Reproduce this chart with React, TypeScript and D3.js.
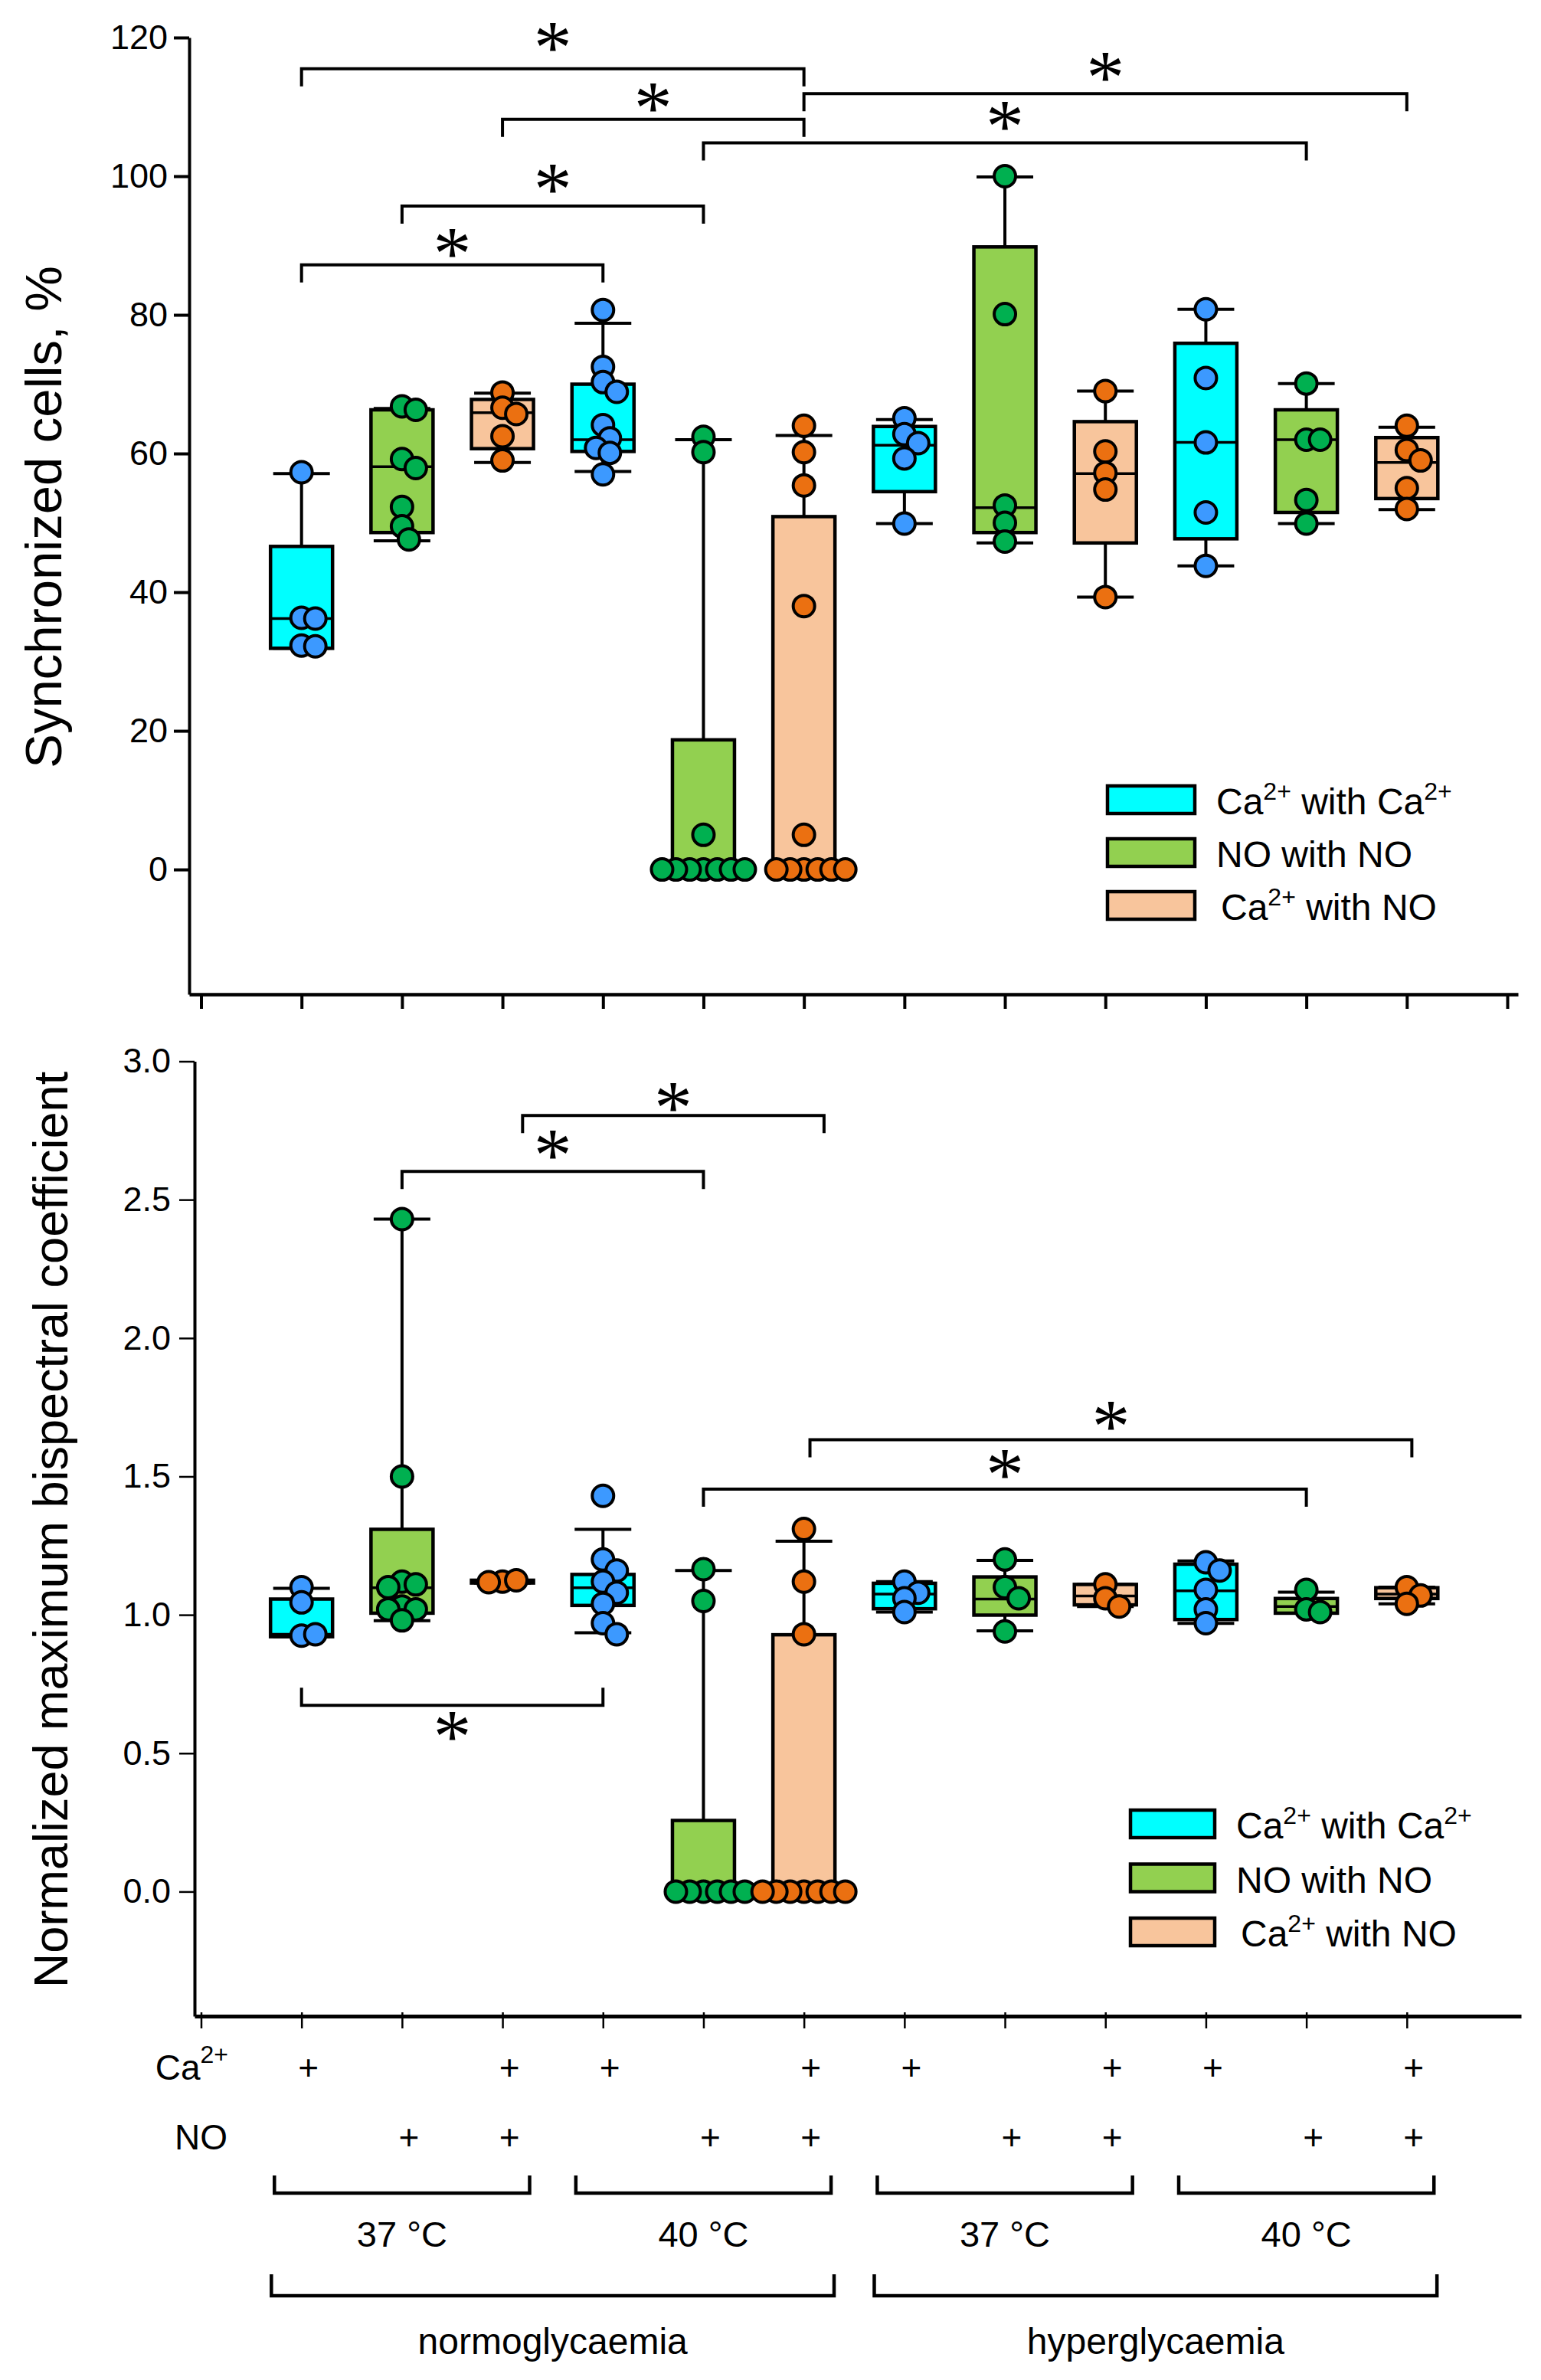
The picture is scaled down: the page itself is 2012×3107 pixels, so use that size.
import React, { useEffect, useRef } from 'react';
import * as d3 from 'd3';

// conditions, left to right (normo 37, normo 40, hyper 37, hyper 40)
const conditions = ['Ca', 'NO', 'CaNO', 'Ca', 'NO', 'CaNO', 'Ca', 'NO', 'CaNO', 'Ca', 'NO', 'CaNO'];
const caAdded = [true, false, true, true, false, true, true, false, true, true, false, true];
const noAdded = [false, true, true, false, true, true, false, true, true, false, true, true];
const temperatures = ['37 °C', '40 °C', '37 °C', '40 °C'];
const glycaemia = ['normoglycaemia', 'hyperglycaemia'];

const syncTicks = [0, 20, 40, 60, 80, 100, 120];
const bispTicks = [0, 0.5, 1, 1.5, 2, 2.5, 3];

// synchronized cells, %
const syncPoints = [
  [57.3, 36.3, 36.2, 32.3, 32.2],
  [66.8, 66.3, 59.2, 57.9, 52.3, 49.5, 47.6],
  [68.8, 66.6, 65.7, 62.5, 59.0],
  [80.7, 72.5, 70.3, 68.9, 64.1, 62.2, 60.8, 60.1, 57.0],
  [62.4, 60.2, 5.0, 0, 0, 0, 0, 0, 0, 0],
  [64.0, 60.2, 55.4, 38.0, 5.0, 0, 0, 0, 0, 0, 0],
  [65.1, 62.8, 61.5, 59.3, 49.9],
  [100.0, 80.1, 52.5, 50.0, 47.3],
  [69.0, 60.3, 57.2, 54.8, 39.3],
  [80.8, 70.9, 61.6, 51.5, 43.8],
  [70.1, 62.0, 62.0, 53.3, 49.9],
  [64.0, 60.5, 59.0, 55.0, 52.0],
];
const syncQ1 = [31.9, 48.6, 60.7, 60.3, 0, 0, 54.5, 48.6, 47.1, 47.7, 51.5, 53.5];
const syncMedian = [36.2, 58.1, 65.9, 62.0, 0, 0, 61.2, 52.2, 57.1, 61.6, 62.0, 58.7];
const syncQ3 = [46.6, 66.3, 67.8, 70.0, 18.7, 50.9, 63.9, 89.8, 64.6, 75.9, 66.3, 62.3];
const syncLow = [31.9, 47.4, 58.7, 57.4, 0, 0, 49.9, 47.1, 39.3, 43.8, 49.9, 51.9];
const syncHigh = [57.1, 66.5, 68.7, 78.8, 62.0, 62.6, 64.9, 99.9, 69.0, 80.8, 70.1, 63.8];
const syncBrackets = [
  { from: 1, to: 6, level: 115.5, star: 119.9 },
  { from: 3, to: 6, level: 108.2, star: 111.2 },
  { from: 6, to: 12, level: 111.9, star: 115.6 },
  { from: 5, to: 11, level: 104.8, star: 108.5 },
  { from: 2, to: 5, level: 95.7, star: 99.5 },
  { from: 1, to: 4, level: 87.2, star: 90.2 },
];

// normalized maximum bispectral coefficient
const bispPoints = [
  [1.10, 1.045, 0.925, 0.93],
  [2.43, 1.50, 1.12, 1.11, 1.10, 1.03, 1.02, 1.02, 0.98],
  [1.12, 1.125, 1.118],
  [1.43, 1.20, 1.16, 1.12, 1.08, 1.04, 0.97, 0.93],
  [1.165, 1.05, 0, 0, 0, 0, 0, 0],
  [1.31, 1.12, 0.93, 0, 0, 0, 0, 0, 0, 0],
  [1.12, 1.08, 1.06, 1.01],
  [1.20, 1.10, 1.06, 0.94],
  [1.11, 1.06, 1.03],
  [1.19, 1.16, 1.09, 1.02, 0.97],
  [1.09, 1.02, 1.01],
  [1.10, 1.07, 1.04],
];
const bispQ1 = [0.921, 1.006, 1.115, 1.034, 0, 0, 1.022, 0.999, 1.036, 0.983, 1.006, 1.059];
const bispMedian = [0.93, 1.098, 1.12, 1.098, 0, 0, 1.075, 1.057, 1.068, 1.087, 1.03, 1.075];
const bispQ3 = [1.057, 1.309, 1.125, 1.146, 0.257, 0.928, 1.114, 1.137, 1.11, 1.183, 1.059, 1.098];
const bispLow = [0.921, 0.979, 1.115, 0.935, 0, 0, 1.01, 0.942, 1.03, 0.969, 1.006, 1.04];
const bispHigh = [1.096, 2.43, 1.125, 1.309, 1.16, 1.266, 1.12, 1.197, 1.11, 1.195, 1.082, 1.10];
const bispBrackets = [
  { from: 2, to: 5, level: 2.602, star: 2.694 },
  { from: 3.2, to: 6.2, level: 2.804, star: 2.866 },
  { from: 1, to: 4, level: 0.673, star: 0.594, below: true },
  { from: 5, to: 11, level: 1.454, star: 1.539 },
  { from: 6.06, to: 12.05, level: 1.633, star: 1.713 },
];

const boxFill: any = { Ca: '#00FFFF', NO: '#92D050', CaNO: '#F8C59C' };
const dotFill: any = { Ca: '#3C99FF', NO: '#00B050', CaNO: '#EB7011' };
const legendItems = [
  { key: 'Ca', parts: [['Ca', 0], ['2+', 1], [' with Ca', 0], ['2+', 1]] },
  { key: 'NO', parts: [['NO with NO', 0]] },
  { key: 'CaNO', parts: [['Ca', 0], ['2+', 1], [' with NO', 0]] },
];

const FONT = '"Liberation Sans", Arial, sans-serif';

const richText = (t: any, parts: any[], size: number, supSize: number, rise: number) => {
  let up = false;
  parts.forEach(([s, sup]) => {
    const span = t.append('tspan').text(s);
    if (sup && !up) {
      span.attr('dy', -rise).attr('font-size', supSize);
      up = true;
    } else if (!sup && up) {
      span.attr('dy', rise).attr('font-size', size);
      up = false;
    } else span.attr('font-size', sup ? supSize : size);
  });
};

const swarm = (vals: number[], y: any, minDist = 18, step = 9) => {
  const placed: { dx: number; py: number }[] = [];
  return vals.map((v) => {
    const py = y(v);
    for (let k = 0; k < 60; k++) {
      const dx = (k % 2 ? (k + 1) / 2 : -k / 2) * step;
      if (placed.every((q) => Math.hypot(q.dx - dx, q.py - py) >= minDist)) {
        placed.push({ dx, py });
        return { dx, py, v };
      }
    }
    return { dx: 0, py, v };
  });
};

const drawPanel = (svg: any, x: any, p: any) => {
  const g = svg.append('g');
  const y = p.y;

  // y axis
  const ya = g
    .append('g')
    .attr('transform', `translate(${p.axisX},0)`)
    .call(
      d3.axisLeft(y).tickValues(p.ticks).tickFormat(p.fmt).tickSize(20).tickSizeOuter(0).tickPadding(p.pad)
    );
  ya.select('.domain').attr('stroke-width', 4);
  ya.selectAll('.tick line').attr('stroke-width', p.tickW);
  ya.selectAll('.tick text').attr('font-family', FONT).attr('font-size', 45).attr('fill', '#000');

  // x axis
  const xa = x.copy().domain([x.invert(p.axisX), x.invert(p.axisRight)]).range([p.axisX, p.axisRight]);
  const xAx = g
    .append('g')
    .attr('transform', `translate(0,${y.range()[0]})`)
    .call(d3.axisBottom(xa).tickValues(p.xTicks).tickFormat(() => '').tickSize(p.xTickLen).tickSizeOuter(0));
  xAx.select('.domain').attr('stroke-width', p.xLineW);
  xAx.selectAll('.tick line').attr('stroke-width', p.tickW).attr('y1', p.xTickUp);

  // boxes
  conditions.forEach((c, i) => {
    const cx = x(i + 1);
    const bw = 81;
    const cw = 74;
    const line = (x1: number, y1: number, x2: number, y2: number, w = 4) =>
      g.append('line').attr('x1', x1).attr('y1', y1).attr('x2', x2).attr('y2', y2).attr('stroke', '#000').attr('stroke-width', w);
    line(cx, y(p.q3[i]), cx, y(p.hi[i]));
    line(cx, y(p.q1[i]), cx, y(p.lo[i]));
    g.append('rect')
      .attr('x', cx - bw / 2)
      .attr('y', y(p.q3[i]))
      .attr('width', bw)
      .attr('height', Math.max(0, y(p.q1[i]) - y(p.q3[i])))
      .attr('fill', boxFill[c])
      .attr('stroke', '#000')
      .attr('stroke-width', 4.5);
    line(cx - bw / 2, y(p.med[i]), cx + bw / 2, y(p.med[i]), 3.5);
    line(cx - cw / 2, y(p.hi[i]), cx + cw / 2, y(p.hi[i]));
    line(cx - cw / 2, y(p.lo[i]), cx + cw / 2, y(p.lo[i]));
  });

  // points
  conditions.forEach((c, i) => {
    const cx = x(i + 1);
    g.append('g')
      .selectAll('circle')
      .data(swarm(p.points[i], y))
      .join('circle')
      .attr('cx', (d: any) => cx + d.dx)
      .attr('cy', (d: any) => d.py)
      .attr('r', 14)
      .attr('fill', dotFill[c])
      .attr('stroke', '#000')
      .attr('stroke-width', 4);
  });

  // significance brackets
  p.brackets.forEach((b: any) => {
    const x1 = x(b.from);
    const x2 = x(b.to);
    const yl = y(b.level);
    const leg = b.below ? -23 : 23;
    g.append('path')
      .attr('d', `M${x1},${yl + leg}V${yl}H${x2}V${yl + leg}`)
      .attr('fill', 'none')
      .attr('stroke', '#000')
      .attr('stroke-width', 4);
    g.append('text')
      .attr('x', (x1 + x2) / 2)
      .attr('y', y(b.star) + 45)
      .attr('text-anchor', 'middle')
      .attr('font-family', '"Liberation Serif", "Times New Roman", serif')
      .attr('font-size', 100)
      .text('*');
  });

  // legend
  legendItems.forEach((it, k) => {
    const top = p.legY + k * p.legGap;
    g.append('rect')
      .attr('x', p.legX)
      .attr('y', top)
      .attr('width', p.legW)
      .attr('height', 36)
      .attr('fill', boxFill[it.key])
      .attr('stroke', '#000')
      .attr('stroke-width', 4.5);
    const t = g
      .append('text')
      .attr('x', p.legX + p.legW + 28 + (k === 2 ? 6 : 0))
      .attr('y', top + 37)
      .attr('font-family', FONT)
      .attr('font-size', 48);
    richText(t, it.parts, 48, 32, 19);
  });

  // y label
  g.append('text')
    .attr('transform', `translate(${p.labelX},${p.labelY}) rotate(-90)`)
    .attr('text-anchor', 'middle')
    .attr('font-family', FONT)
    .attr('font-size', p.labelSize)
    .text(p.label);
};

const App: React.FC = () => {
  const ref = useRef<SVGSVGElement>(null);

  useEffect(() => {
    if (!ref.current) return;
    const svg = d3.select(ref.current);
    svg.selectAll('*').remove();

    const x = d3.scaleLinear().domain([0, 13]).range([262.5, 1968]);

    drawPanel(svg, x, {
      y: d3.scaleLinear().domain([-18, 120]).range([1298, 49]),
      axisX: 247,
      axisRight: 1982,
      ticks: syncTicks,
      fmt: d3.format('d'),
      pad: 8,
      tickW: 4,
      xTicks: d3.range(0, 14),
      xTickLen: 19,
      xTickUp: 0,
      xLineW: 4.5,
      points: syncPoints,
      q1: syncQ1,
      med: syncMedian,
      q3: syncQ3,
      lo: syncLow,
      hi: syncHigh,
      brackets: syncBrackets,
      legX: 1446,
      legY: 1026,
      legGap: 69,
      legW: 114,
      label: 'Synchronized cells, %',
      labelX: 80,
      labelY: 675,
      labelSize: 67,
    });

    drawPanel(svg, x, {
      y: d3.scaleLinear().domain([-0.45, 3]).range([2632, 1385.5]),
      axisX: 254,
      axisRight: 1986,
      ticks: bispTicks,
      fmt: d3.format('.1f'),
      pad: 11,
      tickW: 2.5,
      xTicks: d3.range(0, 13),
      xTickLen: 16,
      xTickUp: -5,
      xLineW: 5,
      points: bispPoints,
      q1: bispQ1,
      med: bispMedian,
      q3: bispQ3,
      lo: bispLow,
      hi: bispHigh,
      brackets: bispBrackets,
      legX: 1476,
      legY: 2363,
      legGap: 70.5,
      legW: 110,
      label: 'Normalized maximum bispectral coefficient',
      labelX: 88,
      labelY: 1997,
      labelSize: 63,
    });

    // treatment rows under the lower panel
    const ann = svg.append('g').attr('font-family', FONT).attr('fill', '#000');
    const caLabel = ann.append('text').attr('x', 298).attr('y', 2715).attr('text-anchor', 'end').attr('font-size', 46);
    richText(caLabel, [['Ca', 0], ['2+', 1]], 46, 32, 22);
    ann.append('text').attr('x', 297).attr('y', 2806).attr('text-anchor', 'end').attr('font-size', 46).text('NO');

    const plusRow = (flags: boolean[], base: number) =>
      ann
        .append('g')
        .selectAll('text')
        .data(flags.map((f, i) => ({ f, i })).filter((d) => d.f))
        .join('text')
        .attr('x', (d: any) => x(d.i + 1) + 9)
        .attr('y', base)
        .attr('text-anchor', 'middle')
        .attr('font-size', 46)
        .text('+');
    plusRow(caAdded, 2715);
    plusRow(noAdded, 2806);

    const bracket = (x1: number, x2: number, top: number, bottom: number) =>
      ann
        .append('path')
        .attr('d', `M${x1},${top}V${bottom}H${x2}V${top}`)
        .attr('fill', 'none')
        .attr('stroke', '#000')
        .attr('stroke-width', 4.5);

    temperatures.forEach((t, k) => {
      bracket(x(1 + 3 * k - 0.27), x(3 + 3 * k + 0.27), 2840, 2863);
      ann.append('text').attr('x', x(2 + 3 * k)).attr('y', 2933).attr('text-anchor', 'middle').attr('font-size', 47).text(t);
    });

    glycaemia.forEach((t, k) => {
      const x1 = x(1 + 6 * k - 0.3);
      const x2 = x(6 + 6 * k + 0.3);
      bracket(x1, x2, 2969, 2997);
      ann.append('text').attr('x', (x1 + x2) / 2).attr('y', 3073).attr('text-anchor', 'middle').attr('font-size', 48).text(t);
    });
  }, []);

  return (
    <svg
      ref={ref}
      width={2012}
      height={3107}
      style={{ position: 'absolute', left: 0, top: 0, background: '#fff' }}
    />
  );
};

export default App;
